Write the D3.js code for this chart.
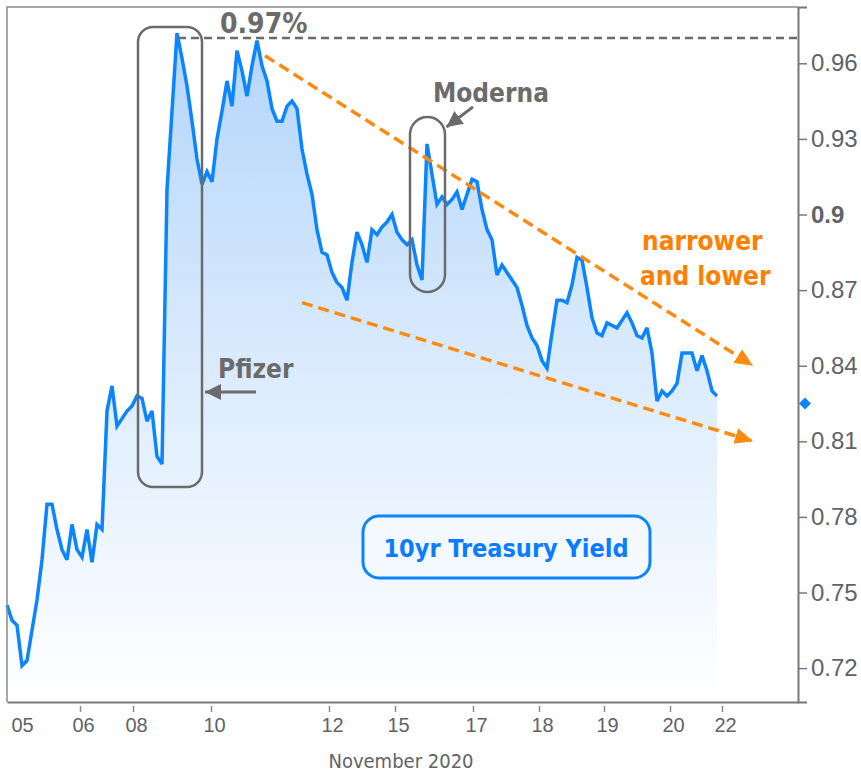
<!DOCTYPE html>
<html>
<head>
<meta charset="utf-8">
<script src="https://cdn.jsdelivr.net/npm/d3@7"></script>
<style>
  body { margin: 0; background: #fff; }
  svg { display: block; font-family: "DejaVu Sans Condensed", "DejaVu Sans", sans-serif; font-stretch: condensed; }
</style>
</head>
<body>
<div id="chart"></div>
<script>
// 10yr yield, one reading per step (Nov 5 - Nov 20, 2020)
const yields = [
  0.745, 0.739, 0.737, 0.721, 0.723, 0.735, 0.747, 0.763, 0.785, 0.785,
  0.775, 0.767, 0.763, 0.777, 0.767, 0.764, 0.775, 0.762, 0.777, 0.775,
  0.822, 0.832, 0.816, 0.819, 0.822, 0.824, 0.828, 0.827, 0.818, 0.822,
  0.804, 0.801, 0.910, 0.941, 0.972, 0.962, 0.951, 0.937, 0.922, 0.912,
  0.917, 0.913, 0.930, 0.941, 0.953, 0.943, 0.965, 0.957, 0.947, 0.959,
  0.969, 0.959, 0.953, 0.942, 0.937, 0.937, 0.943, 0.945, 0.942, 0.926,
  0.916, 0.908, 0.894, 0.885, 0.884, 0.877, 0.873, 0.871, 0.866, 0.881,
  0.893, 0.888, 0.881, 0.894, 0.892, 0.895, 0.897, 0.900, 0.893, 0.890,
  0.888, 0.890, 0.880, 0.874, 0.928, 0.916, 0.904, 0.907, 0.904, 0.906,
  0.909, 0.902, 0.908, 0.914, 0.913, 0.902, 0.894, 0.890, 0.876, 0.880,
  0.877, 0.874, 0.871, 0.864, 0.856, 0.851, 0.848, 0.842, 0.839, 0.853,
  0.866, 0.866, 0.865, 0.872, 0.883, 0.882, 0.871, 0.859, 0.853, 0.852,
  0.857, 0.856, 0.855, 0.858, 0.861, 0.857, 0.852, 0.851, 0.855, 0.845,
  0.826, 0.830, 0.828, 0.830, 0.833, 0.845, 0.845, 0.845, 0.838, 0.844,
  0.838, 0.830, 0.828
];

const dayLabels = ['05', '06', '08', '10', '12', '15', '17', '18', '19', '20', '22'];
const dayTicks = [2.4, 14.6, 25.2, 40.8, 64.4, 77.6, 93.2, 106.4, 119.4, 132.6, 143];
const yTicks = [0.72, 0.75, 0.78, 0.81, 0.84, 0.87, 0.9, 0.93, 0.96];

const peakYield = 0.97;
const lastYield = 0.825;
const upperTrend = [[51.6, 0.963], [149.2, 0.840]];
const lowerTrend = [[59, 0.865], [149.2, 0.810]];
const pfizerBox = [26.2, 39, 0.9744, 0.7919];
const modernaBox = [80.6, 87.6, 0.9387, 0.8692];
const pfizerArrow = [[49.8, 0.8296], [39.6, 0.8296]];
const modernaArrow = [[93.2, 0.9427], [87.9, 0.9347]];

const width = 861, height = 776;
const plotLeft = 7, plotRight = 798, plotTop = 7, plotBottom = 702;

const svg = d3.select('#chart').append('svg')
  .attr('width', width)
  .attr('height', height);

const x = d3.scaleLinear().domain([0, 158.2]).range([plotLeft, plotRight]);
const y = d3.scaleLinear().domain([0.70655, 0.98234]).range([plotBottom, plotTop]);

const defs = svg.append('defs');
const grad = defs.append('linearGradient')
  .attr('id', 'fill')
  .attr('gradientUnits', 'userSpaceOnUse')
  .attr('x1', 0).attr('x2', 0)
  .attr('y1', y(0.972)).attr('y2', plotBottom);
grad.append('stop').attr('offset', 0).attr('stop-color', '#b3d5fb');
grad.append('stop').attr('offset', 0.5).attr('stop-color', '#dbebfd');
grad.append('stop').attr('offset', 1).attr('stop-color', '#ffffff');

function marker(id, color, w, h) {
  defs.append('marker')
    .attr('id', id)
    .attr('viewBox', `0 0 ${w} ${h}`)
    .attr('refX', w).attr('refY', h / 2)
    .attr('markerWidth', w).attr('markerHeight', h)
    .attr('markerUnits', 'userSpaceOnUse')
    .attr('orient', 'auto')
    .append('path')
    .attr('d', `M0,0L${w},${h / 2}L0,${h}Z`)
    .attr('fill', color);
}
marker('orangeHead', '#ff8a10', 18, 16);
marker('grayHead', '#6b6b6b', 16, 16);

// area + line
const area = d3.area()
  .x((d, i) => x(i))
  .y0(plotBottom)
  .y1(d => y(d));
const line = d3.line()
  .x((d, i) => x(i))
  .y(d => y(d));

svg.append('path')
  .datum(yields)
  .attr('d', area)
  .attr('fill', 'url(#fill)');

svg.append('path')
  .datum(yields)
  .attr('d', line)
  .attr('fill', 'none')
  .attr('stroke', '#0a84ff')
  .attr('stroke-width', 3.5)
  .attr('stroke-linejoin', 'miter')
  .attr('stroke-miterlimit', 3);

// frame
svg.append('path')
  .attr('d', `M${plotRight},${plotTop}H${plotLeft}V${plotBottom}`)
  .attr('fill', 'none')
  .attr('stroke', '#8a8a8a')
  .attr('stroke-width', 1.5);

// right axis
const yAxis = svg.append('g')
  .attr('transform', `translate(${plotRight},0)`)
  .call(d3.axisRight(y).tickValues(yTicks).tickSize(9).tickPadding(4).tickFormat(d3.format('')));
yAxis.select('.domain').attr('stroke', '#777').attr('stroke-width', 2);
yAxis.selectAll('.tick line').attr('stroke', '#777').attr('stroke-width', 1.5);
yAxis.selectAll('.tick text')
  .attr('fill', '#5f6268')
  .style('font-size', '24px')
  .style('font-weight', d => d === 0.9 ? 'bold' : 'normal');

// bottom axis
const xAxis = svg.append('g')
  .attr('transform', `translate(0,${plotBottom})`)
  .call(d3.axisBottom(x).tickValues(dayTicks).tickSize(0).tickFormat((d, i) => dayLabels[i]));
xAxis.select('.domain').attr('stroke', '#777').attr('stroke-width', 2);
xAxis.selectAll('.tick line').remove();
xAxis.selectAll('.tick').filter((d, i) => i > 0)
  .append('line')
  .attr('y1', 4).attr('y2', 10)
  .attr('stroke', '#888').attr('stroke-width', 1.5);
xAxis.selectAll('.tick text')
  .attr('fill', '#5f6268')
  .attr('x', 3)
  .attr('y', 16)
  .style('font-size', '20px');

svg.append('text')
  .attr('x', 401).attr('y', 768)
  .attr('text-anchor', 'middle')
  .attr('fill', '#5f6268')
  .style('font-size', '20px')
  .text('November 2020');

// last value marker
svg.append('path')
  .attr('d', d3.symbol(d3.symbolSquare, 72)())
  .attr('transform', `translate(${plotRight + 7},${y(lastYield)}) rotate(45)`)
  .attr('fill', '#0a84ff');

// 0.97% high line
svg.append('line')
  .attr('x1', x(34.2)).attr('x2', plotRight)
  .attr('y1', y(peakYield)).attr('y2', y(peakYield))
  .attr('stroke', '#6b6b6b')
  .attr('stroke-width', 2.5)
  .attr('stroke-dasharray', '8,5');
svg.append('text')
  .attr('x', 220).attr('y', 33)
  .attr('fill', '#6b6b6b')
  .style('font-size', '28px')
  .style('font-weight', 'bold')
  .text('0.97%');

// trend channel
[upperTrend, lowerTrend].forEach(t => {
  svg.append('path')
    .attr('d', d3.line().x(d => x(d[0])).y(d => y(d[1]))(t))
    .attr('fill', 'none')
    .attr('stroke', '#ff8a10')
    .attr('stroke-width', 3.5)
    .attr('stroke-dasharray', '11,6')
    .attr('marker-end', 'url(#orangeHead)');
});
svg.append('text')
  .attr('x', 642).attr('y', 250)
  .attr('fill', '#ff8000')
  .style('font-size', '26px')
  .style('font-weight', 'bold')
  .text('narrower');
svg.append('text')
  .attr('x', 640).attr('y', 285)
  .attr('fill', '#ff8000')
  .style('font-size', '26px')
  .style('font-weight', 'bold')
  .text('and lower');

// vaccine boxes
[pfizerBox, modernaBox].forEach((b, i) => {
  const w = x(b[1]) - x(b[0]);
  svg.append('rect')
    .attr('x', x(b[0])).attr('y', y(b[2]))
    .attr('width', w)
    .attr('height', y(b[3]) - y(b[2]))
    .attr('rx', i === 0 ? 15 : w / 2)
    .attr('fill', 'none')
    .attr('stroke', '#6b6b6b')
    .attr('stroke-width', 2.5);
});
[pfizerArrow, modernaArrow].forEach(a => {
  svg.append('line')
    .attr('x1', x(a[0][0])).attr('y1', y(a[0][1]))
    .attr('x2', x(a[1][0])).attr('y2', y(a[1][1]))
    .attr('stroke', '#6b6b6b')
    .attr('stroke-width', 3)
    .attr('marker-end', 'url(#grayHead)');
});
svg.append('text')
  .attr('x', 218).attr('y', 378)
  .attr('fill', '#6b6b6b')
  .style('font-size', '26px')
  .style('font-weight', 'bold')
  .text('Pfizer');
svg.append('text')
  .attr('x', 433).attr('y', 102)
  .attr('fill', '#6b6b6b')
  .style('font-size', '26px')
  .style('font-weight', 'bold')
  .text('Moderna');

// legend label
svg.append('rect')
  .attr('x', 363).attr('y', 516)
  .attr('width', 287).attr('height', 62)
  .attr('rx', 16)
  .attr('fill', '#f4f9ff')
  .attr('stroke', '#0a84ff')
  .attr('stroke-width', 3);
svg.append('text')
  .attr('x', 506).attr('y', 557)
  .attr('text-anchor', 'middle')
  .attr('fill', '#0a7cff')
  .style('font-size', '25px')
  .style('font-weight', 'bold')
  .text('10yr Treasury Yield');
</script>
</body>
</html>
